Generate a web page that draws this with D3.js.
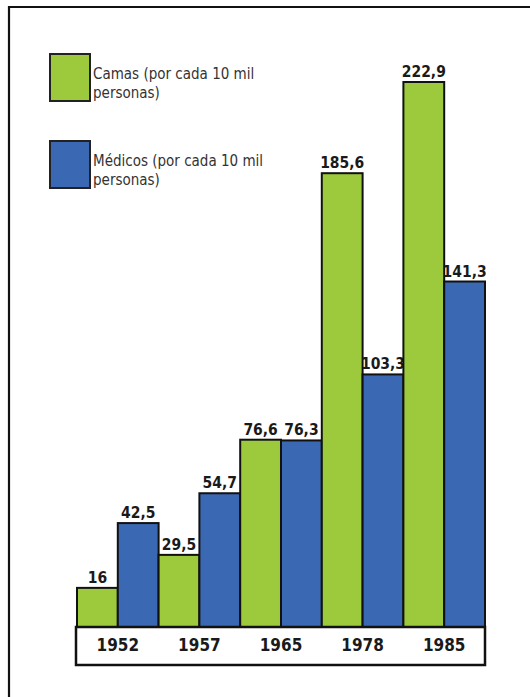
<!DOCTYPE html>
<html>
<head>
<meta charset="utf-8">
<script src="https://cdn.jsdelivr.net/npm/d3@7"></script>
<style>
  html, body { margin: 0; padding: 0; background: #fff; }
  svg { display: block; }
</style>
</head>
<body>
<svg id="chart" width="530" height="697"></svg>
<script>
const years = ["1952", "1957", "1965", "1978", "1985"];
const seriesKeys = ["camas", "medicos"];
const seriesNames = ["Camas (por cada 10 mil|personas)", "Médicos (por cada 10 mil|personas)"];
const seriesColors = ["#9dca3c", "#3b68b3"];
const camas = [16, 29.5, 76.6, 185.6, 222.9];
const medicos = [42.5, 54.7, 76.3, 103.3, 141.3];
const valueLabels = {
  camas: ["16", "29,5", "76,6", "185,6", "222,9"],
  medicos: ["42,5", "54,7", "76,3", "103,3", "141,3"]
};

const data = years.map((y, i) => ({ year: y, camas: camas[i], medicos: medicos[i], i }));

const svg = d3.select("#chart");

// frame (only top and left edges visible)
svg.append("path")
  .attr("d", "M9,700 L9,7 L530,7")
  .attr("fill", "none").attr("stroke", "#111").attr("stroke-width", 2.2);

const x0 = d3.scaleBand().domain(years).range([77, 485]).paddingInner(0).paddingOuter(0);
const x1 = d3.scaleBand().domain(seriesKeys).range([0, x0.bandwidth()]).padding(0);
const y = d3.scaleLinear().domain([0, 222.9]).range([627, 82]);

const color = d3.scaleOrdinal().domain(seriesKeys).range(seriesColors);

const groups = svg.append("g").selectAll("g")
  .data(data).join("g")
  .attr("transform", d => `translate(${x0(d.year)},0)`);

groups.selectAll("rect")
  .data(d => seriesKeys.map(k => ({ key: k, value: d[k], i: d.i })))
  .join("rect")
  .attr("x", d => x1(d.key))
  .attr("y", d => y(d.value))
  .attr("width", x1.bandwidth())
  .attr("height", d => y(0) - y(d.value))
  .attr("fill", d => color(d.key))
  .attr("stroke", "#111")
  .attr("stroke-width", 2);

groups.selectAll("text.val")
  .data(d => seriesKeys.map(k => ({ key: k, value: d[k], i: d.i })))
  .join("text")
  .attr("class", "val")
  .attr("x", d => x1(d.key) + x1.bandwidth() / 2)
  .attr("y", d => y(d.value) - 5)
  .attr("text-anchor", "middle")
  .attr("font-family", "'DejaVu Sans Condensed', 'DejaVu Sans', sans-serif")
  .attr("font-weight", "bold")
  .attr("font-size", 15.5)
  .attr("fill", "#1a1a1a")
  .text(d => valueLabels[d.key][d.i]);

// category box (x axis)
svg.append("rect")
  .attr("x", x0.range()[0] - 1)
  .attr("y", y(0))
  .attr("width", x0.range()[1] - x0.range()[0] + 1)
  .attr("height", 38)
  .attr("fill", "#fff")
  .attr("stroke", "#111")
  .attr("stroke-width", 2.5);

const xAxis = d3.axisBottom(x0).tickSize(0).tickPadding(0);
const axisG = svg.append("g").attr("transform", `translate(0,${y(0) + 12})`).call(xAxis);
axisG.select(".domain").remove();
axisG.selectAll("text")
  .attr("font-family", "'DejaVu Sans Condensed', 'DejaVu Sans', sans-serif")
  .attr("font-weight", "bold")
  .attr("font-size", 17)
  .attr("fill", "#1a1a1a");

// legend
const legendY = [54, 141];
const legend = svg.append("g").selectAll("g")
  .data(seriesKeys).join("g")
  .attr("transform", (d, i) => `translate(50,${legendY[i]})`);

legend.append("rect")
  .attr("width", 40).attr("height", 47)
  .attr("fill", d => color(d))
  .attr("stroke", "#222").attr("stroke-width", 2);

legend.each(function(d, i) {
  const lines = seriesNames[i].split("|");
  const t = d3.select(this).append("text")
    .attr("font-family", "'Liberation Sans Narrow', 'DejaVu Sans Condensed', sans-serif")
    .attr("font-size", 15)
    .attr("fill", "#333");
  lines.forEach((ln, j) => {
    t.append("tspan").attr("x", 43).attr("y", 25 + j * 19).text(ln);
  });
});
</script>
</body>
</html>
